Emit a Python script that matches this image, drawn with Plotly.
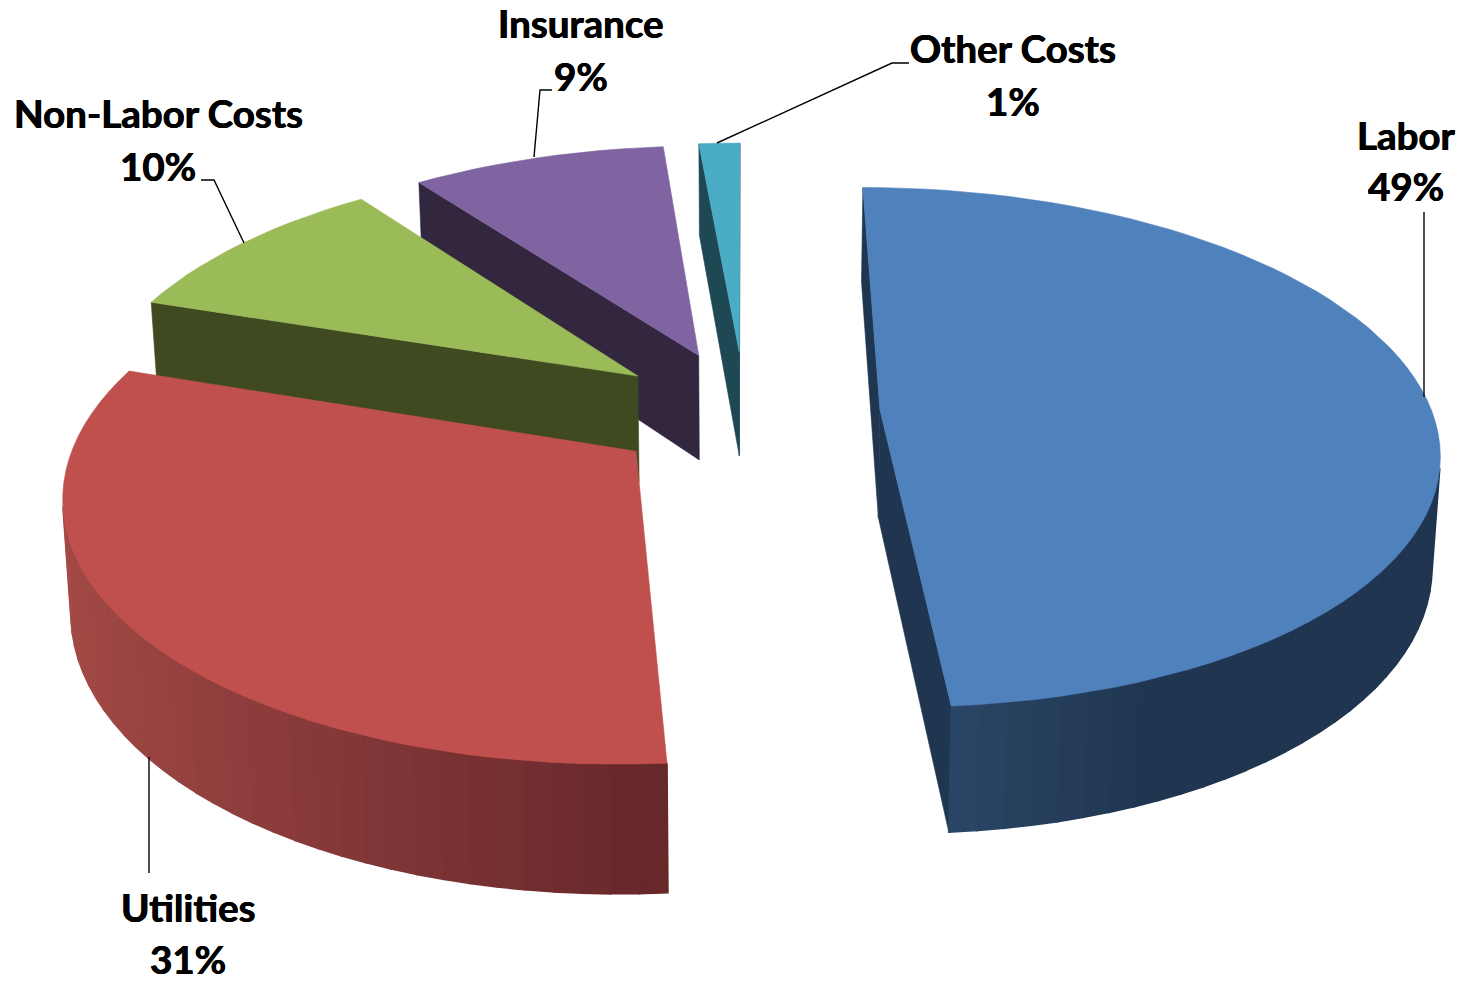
import math
import plotly.graph_objects as go

# values (labels round them to 49/31/10/9/1)
categories = ["Labor", "Utilities", "Non-Labor Costs", "Insurance", "Other Costs"]
shares = [48.8, 31.3, 9.8, 8.7, 1.4]
top_colors = ["#4F81BD", "#C0504D", "#9BBB59", "#8064A2", "#4BACC6"]
side_colors = ["#1F3550", "#65272A", "#3F4A20", "#33273F", "#1F4855"]
# colour of the rim at its light end, None means flat
rim_light = ["#2A4565", "#A64B47", None, None, None]
# angle (deg) where the rim gets its light colour / its dark colour
rim_stops = [(175, 155), (262, 175), None, None, None]

# view of the tilted pie, in page pixels
CX, CY = 745, 412
RX, RY = 552, 255
PERSP = 0.145
DEPTH = 108
LEAN = 0.012
EXPLODE = 0.245
STEP = 2.5

label_name_pos = [(1406, 135), (188, 907), (158, 113), (581, 23), (1013, 48)]
label_pct_pos = [(1406, 186), (188, 959), (158, 166), (581, 76), (1013, 101)]
leaders = [
    [(1424, 212), (1424, 397)],
    [(149, 757), (149, 873)],
    [(201, 180), (214, 180), (244, 243)],
    [(552, 90), (540, 90), (534, 157)],
    [(909, 63), (892, 63), (717, 143)],
]


def project(x, y, z=0):
    s = 1 / (1 + PERSP * y)
    return CX + RX * x * s * (1 - LEAN * z), CY - RY * y * s + DEPTH * z * s


def mix(c1, c2, t):
    a = [int(c1[i:i + 2], 16) for i in (1, 3, 5)]
    b = [int(c2[i:i + 2], 16) for i in (1, 3, 5)]
    return "rgb(%d,%d,%d)" % tuple(a[i] + (b[i] - a[i]) * t for i in range(3))


def add_poly(fig, pts, color, edge=0.6):
    fig.add_trace(go.Scatter(
        x=[p[0] for p in pts] + [pts[0][0]],
        y=[p[1] for p in pts] + [pts[0][1]],
        mode="lines", fill="toself", fillcolor=color,
        line=dict(color=color, width=edge),
        hoverinfo="skip",
    ))


def add_wall(fig, a, b, color, edge=0.6):
    # a, b are plan points going clockwise, only draw the faces turned to us
    quad = [project(*a), project(*b), project(*b, 1), project(*a, 1)]
    area = sum(quad[i][0] * quad[(i + 1) % 4][1] - quad[(i + 1) % 4][0] * quad[i][1]
               for i in range(4))
    if area < 0:
        add_poly(fig, quad, color, edge)


def rim_color(i, deg):
    if rim_light[i] is None:
        return side_colors[i]
    light, dark = [math.sin(math.radians(d)) for d in rim_stops[i]]
    t = (math.sin(math.radians(deg)) - light) / (dark - light)
    return mix(rim_light[i], side_colors[i], min(max(t, 0), 1))


fig = go.Figure()

# slice angles, clockwise from the top
total = sum(shares)
starts = []
run = 0
for v in shares:
    starts.append(run)
    run += v / total * 360

# painted from the back slice to the front one
for i in [4, 3, 2, 1, 0]:
    a0 = starts[i]
    a1 = a0 + shares[i] / total * 360
    mid = math.radians((a0 + a1) / 2)
    ox, oy = EXPLODE * math.sin(mid), EXPLODE * math.cos(mid)
    n = max(int((a1 - a0) / STEP), 2)
    degs = [a0 + (a1 - a0) * k / n for k in range(n + 1)]
    arc = [(ox + math.sin(math.radians(d)), oy + math.cos(math.radians(d))) for d in degs]
    apex = (ox, oy)

    add_wall(fig, apex, arc[0], side_colors[i])
    add_wall(fig, arc[-1], apex, side_colors[i])
    for k in range(n):
        add_wall(fig, arc[k], arc[k + 1], rim_color(i, (degs[k] + degs[k + 1]) / 2), edge=1.6)
    add_poly(fig, [project(*apex)] + [project(*p) for p in arc], top_colors[i])

for path in leaders:
    fig.add_trace(go.Scatter(
        x=[p[0] for p in path], y=[p[1] for p in path],
        mode="lines", line=dict(color="#000000", width=1.4),
        hoverinfo="skip",
    ))

for name, v, p1, p2 in zip(categories, shares, label_name_pos, label_pct_pos):
    for text, pos in ((name, p1), (f"{round(v)}%", p2)):
        fig.add_annotation(
            text=text, x=pos[0], y=pos[1], xref="x", yref="y",
            showarrow=False, xanchor="center", yanchor="middle", height=44,
            font=dict(family="Lato", size=38.5, color="#000000", weight="bold",
                      shadow="0.4px 0 0 #000, -0.4px 0 0 #000"),
        )

fig.update_layout(
    width=1467, height=982,
    margin=dict(l=0, r=0, t=0, b=0),
    paper_bgcolor="#FFFFFF", plot_bgcolor="#FFFFFF",
    showlegend=False,
    xaxis=dict(range=[0, 1467], visible=False, fixedrange=True),
    yaxis=dict(range=[982, 0], visible=False, fixedrange=True),
)
fig.write_html("out.html", config=dict(displayModeBar=False),
               post_script="document.body.style.margin='0';")
